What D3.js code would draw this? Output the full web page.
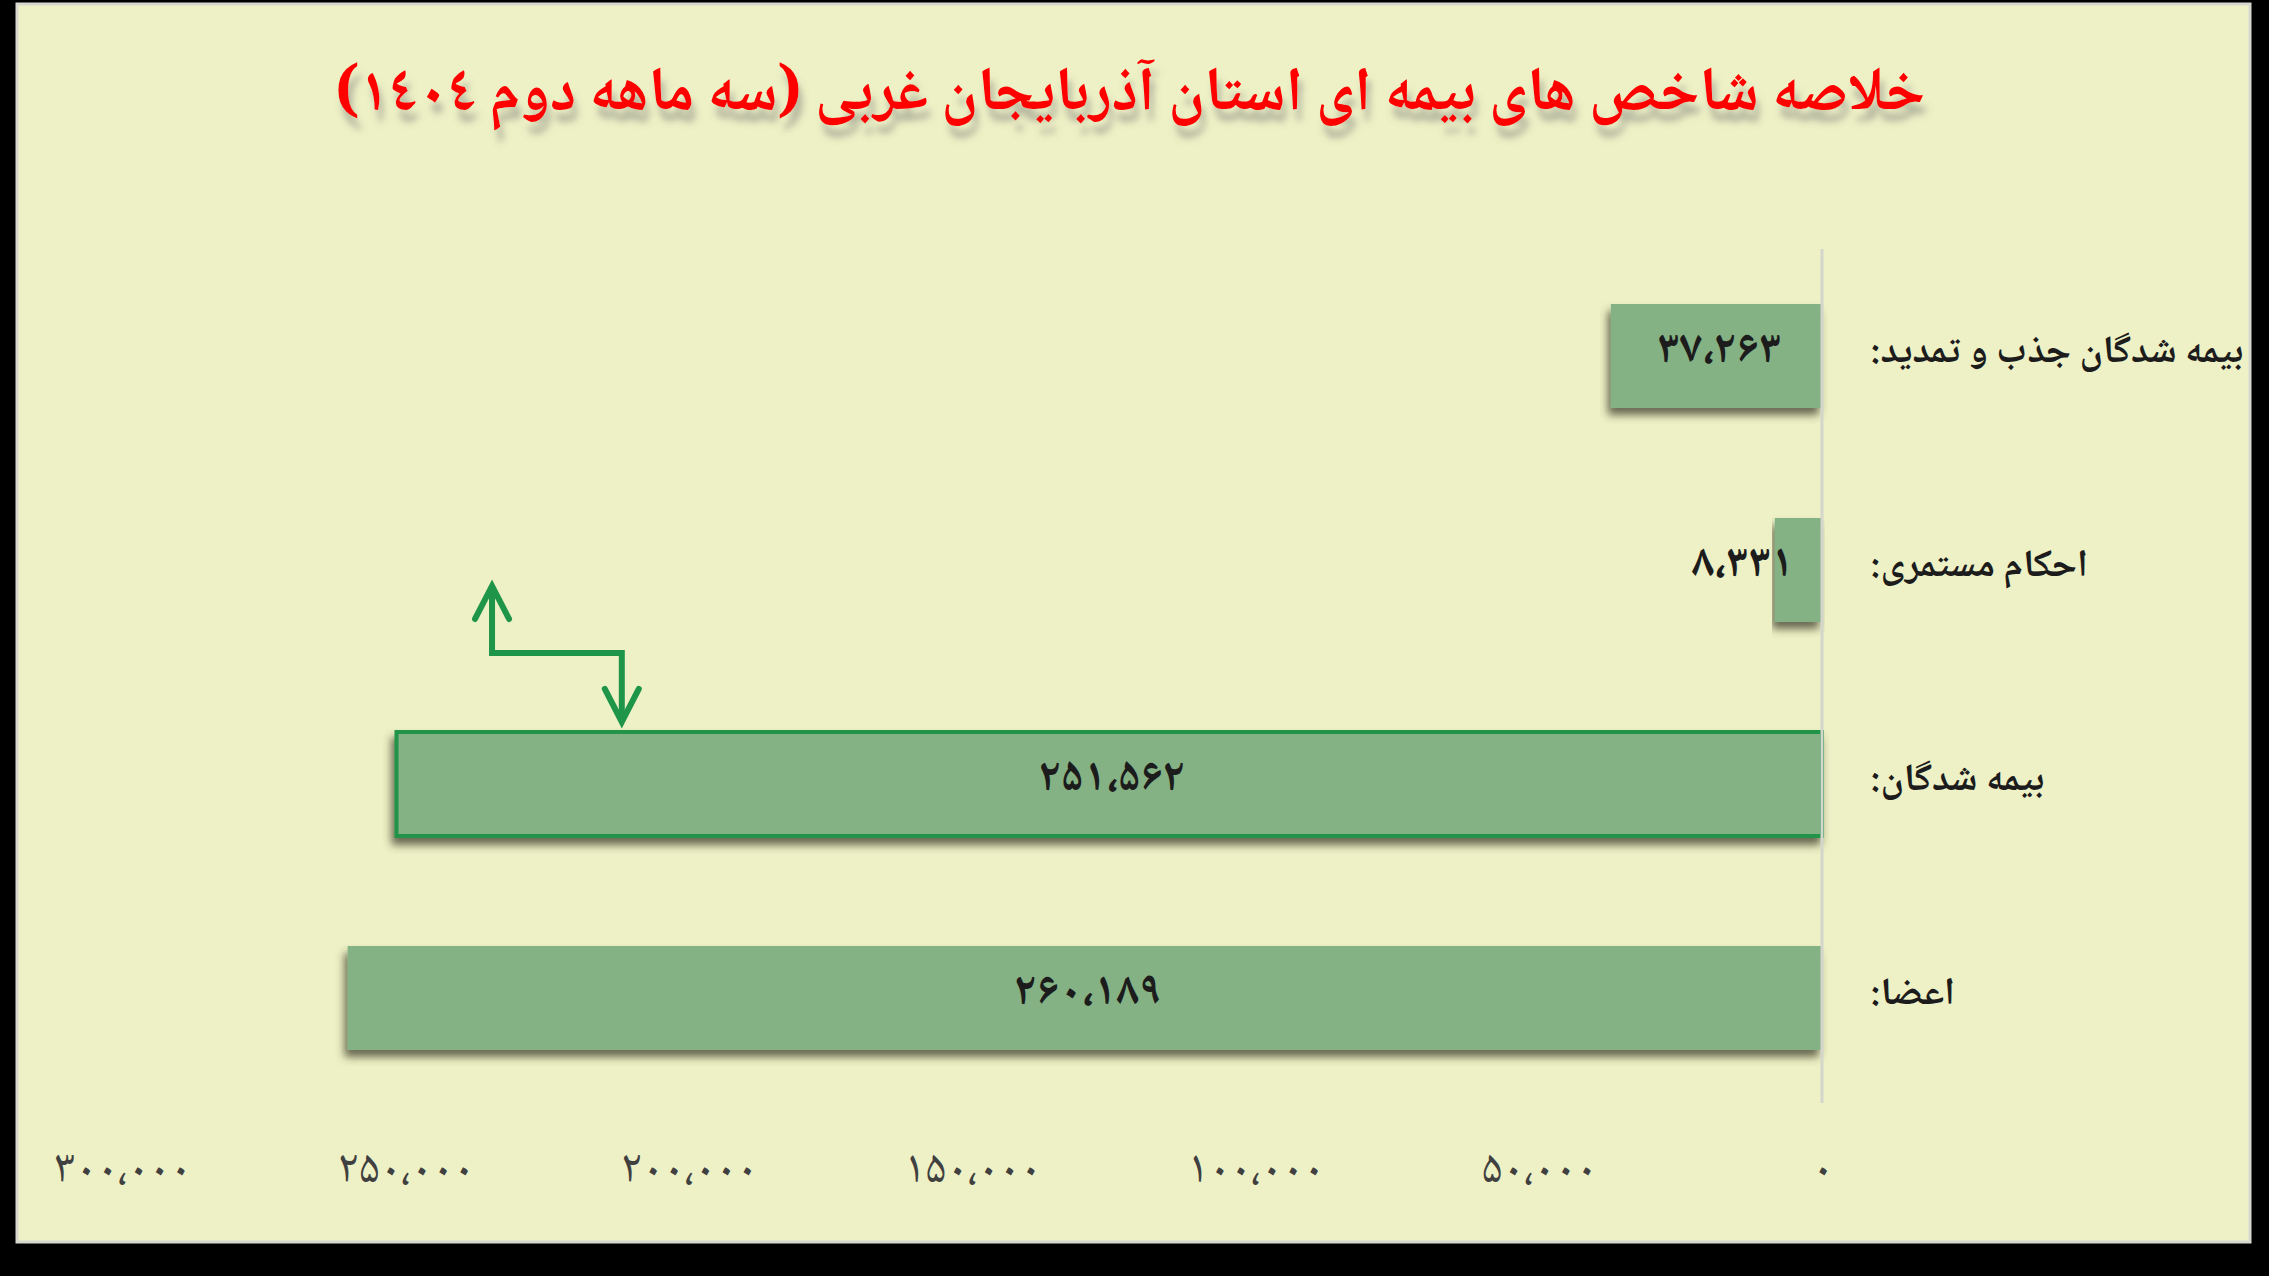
<!DOCTYPE html>
<html>
<head>
<meta charset="utf-8">
<script src="https://cdn.jsdelivr.net/npm/d3@7"></script>
<style>
  html, body { margin: 0; padding: 0; background: #000; }
  svg { display: block; }
</style>
</head>
<body>
<div id="vizDiv"></div>
<script>
var width = 2269
var height = 1276

// data
var categories = ["بیمه شدگان جذب و تمدید:", "احکام مستمری:", "بیمه شدگان:", "اعضا:"]
var values = [37263, 8331, 251562, 260189]
var tickValues = [0, 50000, 100000, 150000, 200000, 250000, 300000]
var titleText = "خلاصه شاخص های بیمه ای استان آذربایجان غربی (سه ماهه دوم ١٤٠٤)"
var highlighted = "بیمه شدگان:"
// the green zig-zag arrow sits between these two values, above the highlighted bar
var arrowValues = [234700, 211800]

var faDigits = "۰۱۲۳۴۵۶۷۸۹"
function toFa(n) {
    return d3.format(",")(n).replace(/,/g, "،").replace(/[0-9]/g, function(d) { return faDigits[+d] })
}

var fontFam = "'B Nazanin', 'Noto Naskh Arabic', 'DejaVu Sans', sans-serif"

var svg = d3.select("#vizDiv")
    .append("svg")
    .attr("width", width)
    .attr("height", height)

var defs = svg.append("defs")

var barShadow = defs.append("filter").attr("id", "barShadow")
    .attr("x", "-5%").attr("y", "-20%").attr("width", "110%").attr("height", "150%")
barShadow.append("feDropShadow")
    .attr("dx", -3).attr("dy", 7).attr("stdDeviation", 4)
    .attr("flood-color", "#3a3a2a").attr("flood-opacity", 0.75)

var titleShadow = defs.append("filter").attr("id", "titleShadow")
    .attr("x", "-5%").attr("y", "-20%").attr("width", "110%").attr("height", "160%")
titleShadow.append("feDropShadow")
    .attr("dx", 4).attr("dy", 12).attr("stdDeviation", 3.5)
    .attr("flood-color", "#777").attr("flood-opacity", 0.5)

// panel
svg.append("rect")
    .attr("x", 17).attr("y", 4)
    .attr("width", 2233).attr("height", 1238)
    .attr("fill", "#eef1c5")
    .attr("stroke", "#d8d8d0")
    .attr("stroke-width", 3)

// title
svg.append("text")
    .attr("x", 1130)
    .attr("y", 110)
    .attr("direction", "rtl")
    .attr("text-anchor", "middle")
    .attr("font-family", fontFam)
    .attr("font-weight", "bold")
    .attr("font-size", 62)
    .attr("fill", "#ff0000")
    .attr("textLength", 1590)
    .attr("lengthAdjust", "spacingAndGlyphs")
    .attr("filter", "url(#titleShadow)")
    .text(titleText)

// scales
var x = d3.scaleLinear().domain([0, 300000]).range([1822, 122])
var y = d3.scaleBand().domain(categories).range([249, 1105])
    .paddingInner(0.514).paddingOuter(0.257)

// bars
svg.selectAll(".bar")
    .data(categories)
    .enter()
    .append("rect")
    .attr("class", "bar")
    .attr("x", function(d, i) { return x(values[i]) })
    .attr("y", function(d) { return y(d) })
    .attr("width", function(d, i) { return x(0) - x(values[i]) })
    .attr("height", y.bandwidth())
    .attr("fill", "#84b284")
    .attr("stroke", function(d) { return d == highlighted ? "#21944a" : "none" })
    .attr("stroke-width", 4)
    .attr("filter", "url(#barShadow)")

// value axis line
svg.append("line")
    .attr("x1", x(0)).attr("x2", x(0))
    .attr("y1", 249).attr("y2", 1103)
    .attr("stroke", "#d4d6cc")
    .attr("stroke-width", 3)

// value labels
function narrow(i) { return x(0) - x(values[i]) < 150 }
svg.selectAll(".valLabel")
    .data(categories)
    .enter()
    .append("text")
    .attr("class", "valLabel")
    .attr("x", function(d, i) {
        var cx = (x(0) + x(values[i])) / 2
        return narrow(i) ? cx - 5 : cx + 3
    })
    .attr("y", function(d) { return y(d) + y.bandwidth() / 2 })
    .attr("dy", "0.12em")
    .attr("text-anchor", function(d, i) { return narrow(i) ? "end" : "middle" })
    .attr("font-family", fontFam)
    .attr("font-weight", "bold")
    .attr("font-size", 46)
    .attr("fill", "#1c1c1c")
    .text(function(d, i) { return toFa(values[i]) })

// category labels (left aligned at a fixed x)
svg.selectAll(".catLabel")
    .data(categories)
    .enter()
    .append("text")
    .attr("class", "catLabel")
    .attr("x", 1870)
    .attr("y", function(d) { return y(d) + y.bandwidth() / 2 })
    .attr("dy", "0.15em")
    .attr("direction", "rtl")
    .attr("text-anchor", "end")
    .attr("font-family", fontFam)
    .attr("font-weight", "bold")
    .attr("font-size", 38.5)
    .attr("fill", "#1c1c1c")
    .text(function(d) { return d })

// bottom axis
var axis = d3.axisBottom(x)
    .tickValues(tickValues)
    .tickSize(0)
    .tickPadding(0)
    .tickFormat(toFa)

var axisG = svg.append("g")
    .attr("transform", "translate(0,1168)")
    .call(axis)
axisG.select(".domain").remove()
axisG.selectAll("text")
    .attr("dy", "0.3em")
    .attr("font-family", fontFam)
    .attr("font-size", 47)
    .attr("fill", "#404040")

// green zig-zag arrow above the highlighted bar
var top3 = y(highlighted)
var ax1 = x(arrowValues[0]), ax2 = x(arrowValues[1])
var arrowG = svg.append("g")
    .attr("fill", "none")
    .attr("stroke", "#1f9549")
    .attr("stroke-width", 6)
    .attr("stroke-linecap", "round")
    .attr("stroke-linejoin", "miter")

arrowG.append("path")
    .attr("stroke-linecap", "butt")
    .attr("d", d3.line()([[ax1, top3 - 145], [ax1, top3 - 79], [ax2, top3 - 79], [ax2, top3 - 11]]))

arrowG.append("path")
    .attr("d", d3.line()([[ax1 - 17, top3 - 113], [ax1, top3 - 146], [ax1 + 17, top3 - 113]]))

arrowG.append("path")
    .attr("d", d3.line()([[ax2 - 17, top3 - 43], [ax2, top3 - 10], [ax2 + 17, top3 - 43]]))
</script>
</body>
</html>
